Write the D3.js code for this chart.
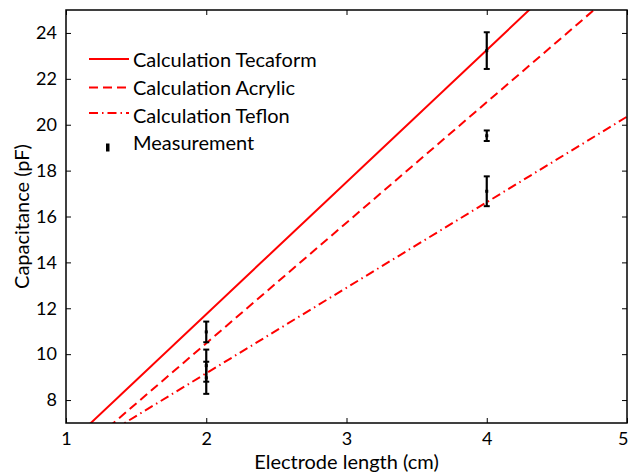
<!DOCTYPE html>
<html><head><meta charset="utf-8">
<script src="https://cdn.jsdelivr.net/npm/d3@7"></script>
<style>body{margin:0;background:#fff}svg{display:block}text{font-family:Lato,"Open Sans",sans-serif;fill:#000}</style>
</head><body><svg id="c" width="628" height="474"></svg>
<script>
// Data
const xTicks = [1, 2, 3, 4, 5];
const yTicks = [8, 10, 12, 14, 16, 18, 20, 22, 24];
const seriesNames = ["Calculation Tecaform", "Calculation Acrylic", "Calculation Teflon", "Measurement"];
const lineX = [1, 5];
const tecaform = [5.98, 29.02];
const acrylic = [5.22, 26.24];
const teflon = [5.44, 20.35];
const measX = [2, 2, 2, 4, 4, 4];
const measY = [10.97, 9.5, 8.97, 23.23, 19.52, 17.1];
const measErr = [0.45, 0.7, 0.7, 0.8, 0.23, 0.65];

const svg = d3.select("#c");
const m = {l: 66, r: 627, t: 10, b: 423};
const x = d3.scaleLinear().domain([1, 5]).range([m.l, m.r]);
const y = d3.scaleLinear().domain([7, 25]).range([m.b, m.t]);

svg.append("defs").append("clipPath").attr("id", "clip")
  .append("rect").attr("x", m.l).attr("y", m.t).attr("width", m.r - m.l).attr("height", m.b - m.t);

const plot = svg.append("g").attr("clip-path", "url(#clip)");
const line = d3.line().x(d => x(d[0])).y(d => y(d[1]));
const lines = [
  {v: tecaform, dash: null},
  {v: acrylic, dash: "9,5"},
  {v: teflon, dash: "9,4,1.5,4"}
];
lines.forEach(s => {
  plot.append("path").datum(lineX.map((xv, i) => [xv, s.v[i]]))
    .attr("d", line).attr("fill", "none").attr("stroke", "#ff0000")
    .attr("stroke-width", 2).attr("stroke-dasharray", s.dash);
});

// Error bars
const eb = plot.selectAll(".eb").data(measX.map((xv, i) => ({x: xv, y: measY[i], e: measErr[i]}))).enter().append("g");
eb.append("line").attr("x1", d => x(d.x)).attr("x2", d => x(d.x))
  .attr("y1", d => y(d.y - d.e)).attr("y2", d => y(d.y + d.e)).attr("stroke", "#000").attr("stroke-width", 2.2);
[-1, 1].forEach(s => {
  eb.append("line").attr("x1", d => x(d.x) - 3).attr("x2", d => x(d.x) + 3)
    .attr("y1", d => y(d.y + s * d.e)).attr("y2", d => y(d.y + s * d.e))
    .attr("stroke", "#000").attr("stroke-width", 2);
});
eb.append("rect").attr("x", d => x(d.x) - 1.5).attr("y", d => y(d.y) - 1.5).attr("width", 3).attr("height", 3).attr("fill", "#000");

// Axes (inside ticks, box)
const ax = svg.append("g");
const gx = ax.append("g").attr("transform", `translate(0,${m.b})`)
  .call(d3.axisBottom(x).tickValues(xTicks).tickSize(-5).tickPadding(9).tickFormat(d3.format("d")));
ax.append("g").attr("transform", `translate(0,${m.t})`)
  .call(d3.axisTop(x).tickValues(xTicks).tickSize(-5).tickFormat(""));
ax.append("g").attr("transform", `translate(${m.l},0)`)
  .call(d3.axisLeft(y).tickValues(yTicks).tickSize(-5).tickPadding(9).tickFormat(d3.format("d")));
ax.append("g").attr("transform", `translate(${m.r},0)`)
  .call(d3.axisRight(y).tickValues(yTicks).tickSize(-5).tickFormat(""));
ax.selectAll(".domain").remove();
ax.selectAll(".tick line").attr("stroke", "#000").attr("stroke-width", 1);
ax.selectAll(".tick text").attr("font-size", 18).attr("font-family", 'Lato,"Open Sans",sans-serif');
// keep the last x label inside the canvas
gx.selectAll(".tick text").filter(d => d === 5).attr("text-anchor", "end").attr("x", 628 - x(5));
svg.append("rect").attr("x", m.l).attr("y", m.t).attr("width", m.r - m.l).attr("height", m.b - m.t)
  .attr("fill", "none").attr("stroke", "#000").attr("stroke-width", 1.5);

svg.append("text").attr("x", (m.l + m.r) / 2).attr("y", 469).attr("text-anchor", "middle")
  .attr("font-size", 20).text("Electrode length (cm)");
svg.append("text").attr("transform", `translate(28.5,${(m.t + m.b) / 2}) rotate(-90)`).attr("text-anchor", "middle")
  .attr("font-size", 20).text("Capacitance (pF)");

// Legend
const leg = svg.append("g");
const lineRowY = [59, 87.5, 113, 147.5];
const textRowY = [66.5, 95, 122.5, 150];
seriesNames.forEach((n, i) => {
  const yy = lineRowY[i];
  if (i < 3) {
    leg.append("line").attr("x1", 89).attr("x2", 129).attr("y1", yy).attr("y2", yy)
      .attr("stroke", "#ff0000").attr("stroke-width", 2).attr("stroke-dasharray", lines[i].dash);
  } else {
    leg.append("rect").attr("x", 106).attr("y", yy - 4).attr("width", 3.5).attr("height", 8).attr("fill", "#000");
  }
  leg.append("text").attr("x", 133).attr("y", textRowY[i]).attr("font-size", 20).text(n);
});
</script></body></html>
